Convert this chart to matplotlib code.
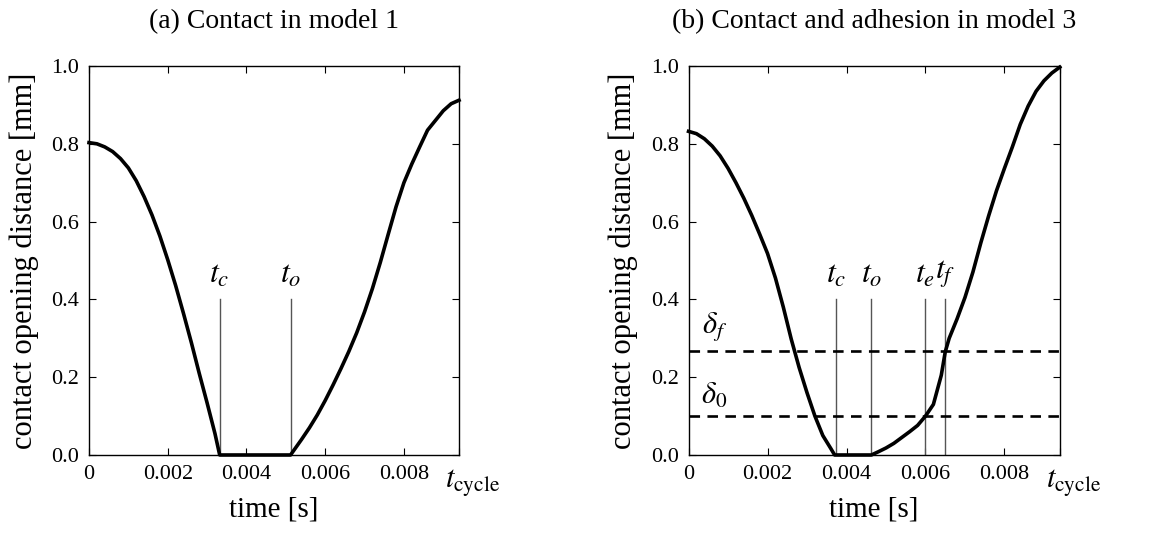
import numpy as np
import matplotlib.pyplot as plt
import matplotlib.transforms as mtransforms

plt.rcParams['font.family'] = ['Liberation Serif', 'DejaVu Serif']
plt.rcParams['mathtext.fontset'] = 'stix'

T_CYCLE = 0.0094

# (a) model 1
t_a = [0.0, 0.0002, 0.0004, 0.0006, 0.0008, 0.0010, 0.0012, 0.0014, 0.0016, 0.0018,
       0.0020, 0.0022, 0.0024, 0.0026, 0.0028, 0.0030, 0.0032, 0.00332, 0.00512,
       0.0054, 0.0056, 0.0058, 0.0060, 0.0062, 0.0064, 0.0066, 0.0068, 0.0070,
       0.0072, 0.0074, 0.0076, 0.0078, 0.0080, 0.0082, 0.0084, 0.0086, 0.0088,
       0.0090, 0.0092, 0.0094]
d_a = [0.803, 0.800, 0.792, 0.780, 0.762, 0.738, 0.705, 0.664, 0.617, 0.563,
       0.502, 0.436, 0.364, 0.289, 0.210, 0.134, 0.055, 0.0, 0.0,
       0.040, 0.070, 0.103, 0.140, 0.180, 0.222, 0.266, 0.314, 0.368,
       0.428, 0.495, 0.567, 0.638, 0.700, 0.748, 0.792, 0.835, 0.860,
       0.885, 0.903, 0.912]
events_a = [0.00332, 0.00512]
event_labels_a = [r'$t_c$', r'$t_o$']

# (b) model 3
t_b = [0.0, 0.0002, 0.0004, 0.0006, 0.0008, 0.0010, 0.0012, 0.0014, 0.0016, 0.0018,
       0.0020, 0.0022, 0.0024, 0.0026, 0.0028, 0.0030, 0.0032, 0.0034, 0.0036, 0.0037,
       0.00463, 0.0048, 0.0050, 0.0052, 0.0054, 0.0056, 0.0058, 0.0060, 0.0062,
       0.0064, 0.0065, 0.0066, 0.0068, 0.0070, 0.0072, 0.0074, 0.0076, 0.0078,
       0.0080, 0.0082, 0.0084, 0.0086, 0.0088, 0.0090, 0.0092, 0.0094]
d_b = [0.832, 0.826, 0.813, 0.794, 0.769, 0.737, 0.700, 0.660, 0.616, 0.568,
       0.518, 0.455, 0.380, 0.298, 0.225, 0.160, 0.100, 0.050, 0.017, 0.0,
       0.0, 0.008, 0.018, 0.030, 0.045, 0.060, 0.076, 0.100, 0.130,
       0.205, 0.265, 0.300, 0.350, 0.405, 0.470, 0.545, 0.615, 0.680,
       0.737, 0.792, 0.850, 0.897, 0.935, 0.962, 0.982, 0.997]
events_b = [0.00373, 0.00463, 0.00599, 0.00650]
event_labels_b = [r'$t_c$', r'$t_o$', r'$t_e$', r'$t_f$']
delta_0 = 0.1
delta_f = 0.267

xticks = [0, 0.002, 0.004, 0.006, 0.008, T_CYCLE]
xticklabels = ['0', '0.002', '0.004', '0.006', '0.008', r'$t_{\mathrm{cycle}}$']
yticks = [0.0, 0.2, 0.4, 0.6, 0.8, 1.0]

fig = plt.figure(figsize=(11.71, 5.41), dpi=100)
ax1 = fig.add_axes([0.076, 0.159, 0.316, 0.719])
ax2 = fig.add_axes([0.588, 0.159, 0.317, 0.719])


def style_axis(ax, title):
    ax.set_xlim(0, T_CYCLE)
    ax.set_ylim(0, 1.0)
    ax.set_xticks(xticks)
    ax.set_xticklabels(xticklabels)
    ax.set_yticks(yticks)
    ax.set_yticklabels([f'{v:.1f}' for v in yticks])
    ax.tick_params(direction='in', top=True, right=True, length=5, width=0.8,
                   labelsize=16, pad=7)
    # t_cycle label sits a bit to the right of the corner
    last = ax.get_xticklabels()[-1]
    last.set_fontsize(22)
    offset = mtransforms.ScaledTranslation(10 / 72, -2 / 72, fig.dpi_scale_trans)
    last.set_transform(last.get_transform() + offset)
    for s in ax.spines.values():
        s.set_linewidth(1.0)
    ax.set_xlabel('time [s]', fontsize=21, labelpad=-2)
    ax.set_ylabel('contact opening distance [mm]', fontsize=22, labelpad=9)
    ax.set_title(title, fontsize=20, pad=27)


def draw_events(ax, times, labels):
    for t, lab in zip(times, labels):
        ax.plot([t, t], [0, 0.4], color='#555555', lw=1.0, zorder=2)
        ax.text(t, 0.425, lab, fontsize=23, ha='center', va='bottom')


# panel (a)
draw_events(ax1, events_a, event_labels_a)
ax1.plot(t_a, d_a, color='black', lw=2.6, zorder=3, clip_on=False)
style_axis(ax1, '(a) Contact in model 1')

# panel (b)
draw_events(ax2, events_b, event_labels_b)
for d in [delta_0, delta_f]:
    ax2.axhline(d, color='black', lw=1.9, dashes=(4, 2.8), zorder=2)
ax2.text(0.00065, 0.33, r'$\delta_f$', fontsize=22, ha='center', va='center')
ax2.text(0.00065, 0.152, r'$\delta_0$', fontsize=22, ha='center', va='center')
ax2.plot(t_b, d_b, color='black', lw=2.6, zorder=3, clip_on=False)
style_axis(ax2, '(b) Contact and adhesion in model 3')

fig.savefig('out.png', dpi=100)
